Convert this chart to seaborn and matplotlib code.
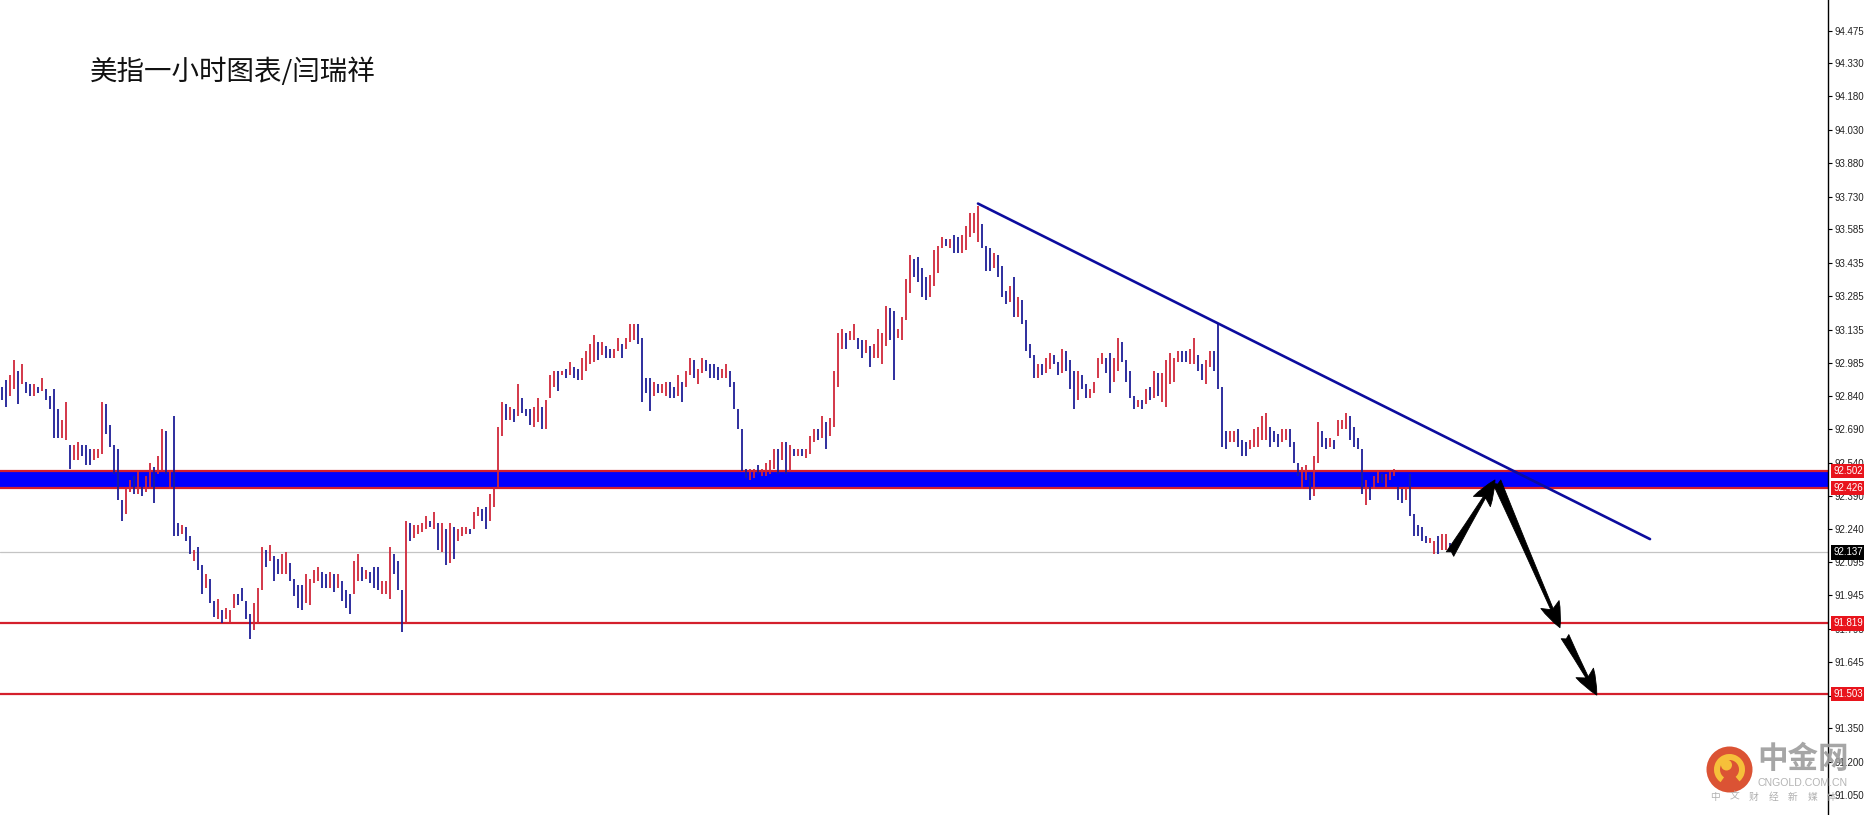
import seaborn as sns
import matplotlib
matplotlib.use("Agg")
import matplotlib.pyplot as plt
import matplotlib.patches as mpatches
import matplotlib.transforms as mtransforms

# K线数据 (从图上读出, 每根约合并两小时): 最高价 / 最低价
highs = [
    92.88, 92.91, 92.93, 93.00, 92.95, 92.98, 92.90, 92.89, 92.89, 92.88,
    92.92, 92.87, 92.84, 92.87, 92.78, 92.73, 92.81, 92.62, 92.62, 92.63,
    92.62, 92.62, 92.60, 92.60, 92.60, 92.81, 92.80, 92.71, 92.62, 92.60,
    92.37, 92.42, 92.46, 92.48, 92.50, 92.43, 92.48, 92.54, 92.52, 92.57,
    92.69, 92.68, 92.50, 92.75, 92.27, 92.26, 92.25, 92.21, 92.15, 92.16,
    92.08, 92.04, 92.02, 91.92, 91.93, 91.88, 91.89, 91.88, 91.95, 91.95,
    91.98, 91.92, 91.86, 91.91, 91.98, 92.16, 92.15, 92.17, 92.12, 92.11,
    92.13, 92.14, 92.09, 92.02, 91.99, 91.99, 92.04, 92.02, 92.06, 92.07,
    92.05, 92.04, 92.05, 92.04, 92.04, 92.01, 91.97, 91.95, 92.10, 92.13,
    92.07, 92.06, 92.05, 92.07, 92.07, 92.01, 92.01, 92.16, 92.13, 92.10,
    91.97, 92.28, 92.27, 92.26, 92.26, 92.27, 92.30, 92.28, 92.32, 92.27,
    92.27, 92.24, 92.27, 92.25, 92.24, 92.25, 92.25, 92.24, 92.32, 92.34,
    92.33, 92.34, 92.40, 92.43, 92.70, 92.81, 92.80, 92.79, 92.78, 92.89,
    92.83, 92.78, 92.78, 92.79, 92.83, 92.79, 92.82, 92.93, 92.95, 92.95,
    92.95, 92.96, 92.99, 92.97, 92.96, 93.01, 93.04, 93.07, 93.11, 93.08,
    93.08, 93.06, 93.05, 93.05, 93.10, 93.07, 93.10, 93.16, 93.16, 93.16,
    93.10, 92.92, 92.92, 92.90, 92.89, 92.89, 92.90, 92.90, 92.88, 92.93,
    92.90, 92.95, 93.01, 93.00, 92.96, 93.01, 93.00, 92.98, 92.98, 92.97,
    92.96, 92.98, 92.95, 92.90, 92.78, 92.69, 92.51, 92.51, 92.51, 92.53,
    92.51, 92.54, 92.55, 92.60, 92.60, 92.63, 92.63, 92.62, 92.60, 92.60,
    92.60, 92.60, 92.66, 92.69, 92.69, 92.75, 92.72, 92.74, 92.95, 93.12,
    93.14, 93.12, 93.13, 93.16, 93.10, 93.09, 93.09, 93.06, 93.07, 93.14,
    93.12, 93.24, 93.23, 93.22, 93.14, 93.19, 93.36, 93.47, 93.45, 93.46,
    93.41, 93.37, 93.38, 93.49, 93.51, 93.55, 93.54, 93.54, 93.56, 93.55,
    93.56, 93.60, 93.66, 93.66, 93.69, 93.61, 93.51, 93.50, 93.48, 93.47,
    93.42, 93.31, 93.33, 93.37, 93.28, 93.27, 93.18, 93.07, 93.02, 92.98,
    92.98, 93.01, 93.03, 93.02, 92.99, 93.05, 93.04, 93.00, 92.95, 92.95,
    92.93, 92.89, 92.87, 92.90, 93.01, 93.03, 93.01, 93.03, 93.01, 93.10,
    93.08, 93.00, 92.95, 92.84, 92.82, 92.82, 92.87, 92.88, 92.95, 92.94,
    92.94, 93.00, 93.03, 93.01, 93.04, 93.04, 93.04, 93.05, 93.10, 93.02,
    92.98, 93.00, 93.04, 93.04, 93.16, 92.88, 92.68, 92.68, 92.68, 92.69,
    92.64, 92.63, 92.64, 92.69, 92.70, 92.75, 92.76, 92.70, 92.68, 92.67,
    92.69, 92.69, 92.69, 92.63, 92.54, 92.52, 92.53, 92.49, 92.57, 92.72,
    92.68, 92.65, 92.65, 92.64, 92.73, 92.73, 92.76, 92.75, 92.70, 92.65,
    92.60, 92.46, 92.43, 92.48, 92.50, 92.49, 92.49, 92.50, 92.51, 92.43,
    92.42, 92.43, 92.49, 92.31, 92.26, 92.25, 92.21, 92.20, 92.19, 92.21,
    92.22, 92.22, 92.18,
]
lows = [
    92.82, 92.79, 92.84, 92.87, 92.80, 92.89, 92.85, 92.84, 92.84, 92.85,
    92.86, 92.82, 92.78, 92.65, 92.65, 92.65, 92.64, 92.51, 92.55, 92.55,
    92.57, 92.53, 92.53, 92.55, 92.56, 92.58, 92.67, 92.61, 92.49, 92.37,
    92.28, 92.31, 92.41, 92.40, 92.40, 92.39, 92.41, 92.43, 92.36, 92.49,
    92.50, 92.49, 92.42, 92.21, 92.21, 92.22, 92.19, 92.13, 92.10, 92.06,
    91.95, 91.98, 91.91, 91.85, 91.84, 91.82, 91.84, 91.82, 91.89, 91.90,
    91.92, 91.84, 91.75, 91.79, 91.82, 91.97, 92.07, 92.10, 92.01, 92.04,
    92.04, 92.04, 92.01, 91.94, 91.89, 91.88, 91.91, 91.90, 92.00, 92.01,
    91.98, 91.98, 91.98, 91.96, 91.98, 91.92, 91.89, 91.86, 91.95, 92.01,
    92.01, 92.02, 92.00, 91.98, 91.97, 91.95, 91.95, 91.93, 92.04, 91.97,
    91.78, 91.82, 92.19, 92.20, 92.22, 92.23, 92.24, 92.25, 92.24, 92.15,
    92.14, 92.08, 92.09, 92.11, 92.19, 92.21, 92.22, 92.22, 92.24, 92.30,
    92.28, 92.24, 92.28, 92.34, 92.43, 92.66, 92.73, 92.73, 92.72, 92.75,
    92.76, 92.75, 92.71, 92.70, 92.72, 92.69, 92.69, 92.83, 92.88, 92.86,
    92.93, 92.92, 92.93, 92.92, 92.91, 92.91, 92.95, 92.98, 92.99, 93.00,
    93.02, 93.01, 93.01, 93.01, 93.04, 93.01, 93.05, 93.08, 93.09, 93.07,
    92.81, 92.85, 92.77, 92.84, 92.85, 92.85, 92.84, 92.83, 92.83, 92.84,
    92.81, 92.88, 92.93, 92.92, 92.89, 92.94, 92.95, 92.92, 92.92, 92.91,
    92.92, 92.92, 92.88, 92.78, 92.69, 92.50, 92.47, 92.46, 92.47, 92.49,
    92.48, 92.48, 92.49, 92.51, 92.49, 92.55, 92.49, 92.50, 92.57, 92.57,
    92.57, 92.56, 92.58, 92.63, 92.64, 92.65, 92.60, 92.66, 92.70, 92.88,
    93.05, 93.05, 93.09, 93.09, 93.05, 93.01, 93.03, 92.97, 93.01, 93.01,
    92.98, 93.06, 93.09, 92.91, 93.10, 93.09, 93.18, 93.30, 93.37, 93.35,
    93.28, 93.27, 93.28, 93.33, 93.39, 93.50, 93.51, 93.50, 93.48, 93.48,
    93.48, 93.49, 93.55, 93.57, 93.53, 93.50, 93.40, 93.40, 93.41, 93.37,
    93.28, 93.25, 93.26, 93.19, 93.19, 93.16, 93.04, 93.01, 92.92, 92.92,
    92.93, 92.94, 92.96, 92.98, 92.93, 92.94, 92.95, 92.87, 92.78, 92.82,
    92.87, 92.83, 92.83, 92.85, 92.92, 92.98, 92.94, 92.85, 92.90, 92.95,
    92.99, 92.90, 92.83, 92.78, 92.79, 92.78, 92.80, 92.82, 92.83, 92.84,
    92.81, 92.79, 92.89, 92.90, 92.99, 92.99, 92.99, 92.98, 92.98, 92.95,
    92.91, 92.89, 92.97, 92.95, 92.87, 92.61, 92.60, 92.63, 92.63, 92.61,
    92.57, 92.57, 92.60, 92.61, 92.61, 92.64, 92.64, 92.61, 92.63, 92.61,
    92.63, 92.64, 92.61, 92.54, 92.48, 92.42, 92.46, 92.37, 92.39, 92.54,
    92.61, 92.60, 92.61, 92.60, 92.66, 92.69, 92.69, 92.64, 92.61, 92.60,
    92.40, 92.35, 92.37, 92.42, 92.45, 92.45, 92.43, 92.46, 92.48, 92.37,
    92.36, 92.37, 92.30, 92.21, 92.21, 92.19, 92.18, 92.18, 92.13, 92.13,
    92.15, 92.15, 92.14,
]
# u = 阳线(红), d = 阴线(蓝)
dirs = ("dduududdud" "udddduuduu" "ddduuudddd" "duududuudu" "ududduddud"
        "dudduduuud" "ddduuududd" "uudddduuuu" "ddududdduu" "duddduuudd"
        "duduuuudud" "ududuuuduu" "dduuuududu" "ddduuduuud" "ududduuuud"
        "udduuduuud" "ddduduuddu" "duuduudddd" "uuddddduud" "uuuudududu"
        "duuududuuu" "uduudduduu" "uudduuuudd" "dduuuududd" "uuuuudddud"
        "ddududdddu" "duuddudddu" "dduuuudduu" "ddddududud" "uuuuudduud"
        "duudddduud" "dduuuuuddd" "uuddduuduu" "dduduuuddd" "duduuduuud"
        "duddddduud" "uud")

title = "美指一小时图表/闫瑞祥"
yticks = [94.475, 94.330, 94.180, 94.030, 93.880, 93.730, 93.585, 93.435,
          93.285, 93.135, 92.985, 92.840, 92.690, 92.540, 92.390, 92.240,
          92.095, 91.945, 91.795, 91.645, 91.495, 91.350, 91.200, 91.050]
zone = [92.426, 92.502]
levels = [91.819, 91.503]
last_price = 92.137
trend_x = [244, 412]
trend_y = [93.70, 92.197]
arrow_tails = [(362, 92.13), (373.7, 92.454), (390.75, 91.76)]
arrow_heads = [(373.25, 92.462), (389.5, 91.80), (398.7, 91.498)]

color_up = "#d0283a"
color_dn = "#1e1e96"

sns.set_style("white")
plt.rcParams['font.family'] = ['Liberation Sans', 'Noto Sans CJK SC', 'DejaVu Sans']
cjk = ['Noto Sans CJK SC', 'DejaVu Sans']

fig = plt.figure(figsize=(18.64, 8.15), dpi=100)
ax = fig.add_axes([0, 0, 1828 / 1864, 1])

n = min(len(highs), len(lows), len(dirs))
xs = list(range(n))
colors = [color_up if c == "u" else color_dn for c in dirs[:n]]

# 阻力带和支撑线
ax.axhspan(zone[0], zone[1], color="#0000ff", lw=0, zorder=1)
for v in zone + levels:
    ax.axhline(v, color="#d41f2c", lw=1.6, zorder=1.5)
ax.axhline(last_price, color="#c4c4c4", lw=0.9, zorder=1.2)

# K线
ax.vlines(xs, lows[:n], highs[:n], colors=colors, linewidth=1.3, zorder=2)

# 下降趋势线
sns.lineplot(x=trend_x, y=trend_y, ax=ax, color="#0c0c9e", linewidth=1.9, zorder=3)

# 箭头
for tail, head in zip(arrow_tails, arrow_heads):
    ax.annotate("", xy=head, xytext=tail, zorder=5,
                arrowprops=dict(arrowstyle="fancy,head_length=0.7,head_width=0.55,tail_width=0.24",
                                fc="black", ec="black", lw=0.6, mutation_scale=26,
                                shrinkA=0, shrinkB=0))

ax.set_xlim(-0.5, 456.5)
ax.set_ylim(90.961, 94.612)
ax.set_xticks([])
ax.yaxis.tick_right()
ax.set_yticks(yticks)
ax.set_yticklabels([f"{v:.3f}" for v in yticks])
ax.tick_params(axis="y", direction="out", length=3, width=0.8, pad=1.8,
               labelsize=7, labelcolor="#222222", color="black")
for s in ["top", "left", "bottom"]:
    ax.spines[s].set_visible(False)
ax.spines["right"].set_color("black")
ax.spines["right"].set_linewidth(1.0)

# 右侧价格标签
trans = mtransforms.blended_transform_factory(ax.transAxes, ax.transData)
ax.text(1.003, 94.625, "94.625", transform=trans, fontsize=7, color="#222222",
        va="center", ha="left", clip_on=False)
for v, fc in [(zone[1], "#e8141c"), (zone[0], "#e8141c"), (levels[0], "#e8141c"),
              (levels[1], "#e8141c"), (last_price, "black")]:
    ax.text(1.003, v, f"{v:.3f}", transform=trans, fontsize=7, color="white",
            va="center", ha="left", clip_on=False, zorder=10,
            bbox=dict(boxstyle="square,pad=0.22", fc=fc, ec="none"))

# 标题
fig.text(90 / 1864, 1 - 72 / 815, title, fontsize=19.8, family=cjk,
         color="#111111", va="center", ha="left")

# 水印
inch = fig.dpi_scale_trans
fig.patches.append(mpatches.Circle((17.295, 0.455), 0.23, transform=inch,
                                   fc="#d8401e", ec="none", alpha=0.9))
fig.patches.append(mpatches.Wedge((17.295, 0.455), 0.155, -50, 235, width=0.06,
                                  transform=inch, fc="#f6c03a", ec="none"))
fig.patches.append(mpatches.Circle((17.265, 0.50), 0.055, transform=inch,
                                   fc="#f6c03a", ec="none"))
fig.text(1757 / 1864, 1 - 759 / 815, "中金网", fontsize=22, fontweight="bold",
         family=cjk, color="#9c9c9c", va="center", ha="left", alpha=0.9)
fig.text(1758 / 1864, 1 - 783 / 815, "CNGOLD.COM.CN", fontsize=7.6,
         color="#b4b4b4", va="center", ha="left")
for k, ch in enumerate("中文财经新媒体"):
    fig.text((1710 + 19.5 * k) / 1864, 1 - 797 / 815, ch, fontsize=7,
             family=cjk, color="#b0b0b0", va="center", ha="left")

fig.savefig("out.png", dpi=100, facecolor="white")
